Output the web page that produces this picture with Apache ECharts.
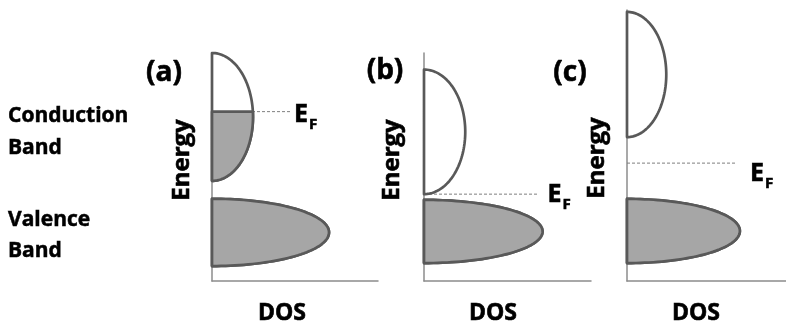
<!DOCTYPE html>
<html>
<head>
<meta charset="utf-8">
<script src="https://cdn.jsdelivr.net/npm/echarts@6/dist/echarts.min.js"></script>
<style>
html,body{margin:0;padding:0;background:#fff;}
#chart{width:786px;height:328px;}
</style>
</head>
<body>
<div id="chart"></div>
<script>
// ---- data (energy in arbitrary units, DOS in arbitrary units) ----
const panelTags = ['(a)', '(b)', '(c)'];
const axisEnergyMax = [84, 84, 100];
const cbBottom = [36.9, 32.0, 53.1];
const cbTop = [84.0, 77.9, 99.3];
const cbPeak = [24.7, 24.7, 24.7];
const vbBottom = [5.5, 6.6, 6.6];
const vbTop = [30.3, 29.9, 30.3];
const vbPeak = [70.5, 71, 71];
const fermi = [62.4, 32.0, 43.5];
const fermiLineEnd = [47, 68, 68];
const xName = 'DOS';
const yName = 'Energy';
const sideLabels = ['Conduction\nBand', 'Valence\nBand'];

// ---- layout (positions / styles) ----
const grids = [
  {left: 212, top: 53, width: 166, height: 228},
  {left: 424, top: 53, width: 167, height: 228},
  {left: 627, top: 10, width: 166, height: 271}
];
const tagPos = [[164, 73], [385, 71], [570, 73]];
const energyPos = [[182, 160], [392, 160], [597, 158]];
const dosPos = [[282, 313], [493, 313], [696, 313]];
const efOffset = [[-1, 3], [5, 1], [10, 11]];
const FONT = '"Open Sans", "Liberation Sans", sans-serif';
const OUTLINE = '#595959';
const FILL = '#a6a6a6';
const AXIS = '#8c8c8c';
const BOLDER = {textBorderColor: '#000', textBorderWidth: 0.6};

function bandRender(params, api) {
  const lo = api.value(0), hi = api.value(1), peak = api.value(2), fillTo = api.value(3);
  const c = (lo + hi) / 2, h = (hi - lo) / 2;
  const N = 80;
  const outline = [];
  for (let i = 0; i <= N; i++) {
    const th = -Math.PI / 2 + Math.PI * i / N;
    outline.push(api.coord([peak * Math.cos(th), c + h * Math.sin(th)]));
  }
  const children = [{
    type: 'polygon',
    shape: {points: outline},
    style: {fill: '#ffffff', stroke: OUTLINE, lineWidth: 2.7, lineJoin: 'round'}
  }];
  if (fillTo > lo) {
    const top = Math.min(fillTo, hi);
    const thEnd = Math.asin(Math.max(-1, Math.min(1, (top - c) / h)));
    const pts = [];
    for (let i = 0; i <= N; i++) {
      const th = -Math.PI / 2 + (thEnd + Math.PI / 2) * i / N;
      pts.push(api.coord([peak * Math.cos(th), c + h * Math.sin(th)]));
    }
    pts.push(api.coord([0, top]));
    children.push({
      type: 'polygon',
      shape: {points: pts},
      style: {fill: FILL, stroke: OUTLINE, lineWidth: 2.7, lineJoin: 'round'}
    });
  }
  return {type: 'group', children: children};
}

const option = {
  animation: false,
  backgroundColor: '#ffffff',
  grid: grids.map(g => Object.assign({containLabel: false}, g)),
  xAxis: grids.map((g, i) => ({
    type: 'value', gridIndex: i, min: 0, max: 100,
    axisLine: {show: true, lineStyle: {color: AXIS, width: 1.5}},
    axisTick: {show: false}, axisLabel: {show: false}, splitLine: {show: false}
  })),
  yAxis: grids.map((g, i) => ({
    type: 'value', gridIndex: i, min: 0, max: axisEnergyMax[i],
    axisLine: {show: true, onZero: false, lineStyle: {color: AXIS, width: 1.5}},
    axisTick: {show: false}, axisLabel: {show: false}, splitLine: {show: false}
  })),
  series: [],
  graphic: []
};

for (let i = 0; i < 3; i++) {
  option.series.push({
    type: 'line', xAxisIndex: i, yAxisIndex: i, z: 1, silent: true,
    symbol: 'none',
    lineStyle: {color: '#7f7f7f', width: 1, type: [3, 2]},
    endLabel: {
      show: true, distance: 5, offset: efOffset[i],
      formatter: '{e|E}{f|F}',
      rich: {
        e: Object.assign({fontFamily: FONT, fontWeight: 'bold', fontSize: 25, color: '#000', lineHeight: 25}, BOLDER),
        f: Object.assign({fontFamily: FONT, fontWeight: 'bold', fontSize: 15, color: '#000', lineHeight: 15, padding: [20, 0, 0, 1]}, BOLDER)
      }
    },
    data: [[0, fermi[i]], [fermiLineEnd[i], fermi[i]]]
  });
  option.series.push({
    type: 'custom', xAxisIndex: i, yAxisIndex: i, z: 3, silent: true,
    renderItem: bandRender,
    data: [
      [cbBottom[i], cbTop[i], cbPeak[i], fermi[i]],
      [vbBottom[i], vbTop[i], vbPeak[i], fermi[i]]
    ]
  });
  option.graphic.push({
    type: 'text', x: tagPos[i][0], y: tagPos[i][1],
    style: Object.assign({text: panelTags[i], fontFamily: FONT, fontWeight: 'bold', fontSize: 28, fill: '#000', align: 'center', verticalAlign: 'middle'}, {stroke: '#000', lineWidth: 0.6})
  });
  option.graphic.push({
    type: 'text', x: energyPos[i][0], y: energyPos[i][1], rotation: Math.PI / 2,
    style: {text: yName, fontFamily: FONT, fontWeight: 'bold', fontSize: 24, fill: '#000', stroke: '#000', lineWidth: 0.6, align: 'center', verticalAlign: 'middle'}
  });
  option.graphic.push({
    type: 'text', x: dosPos[i][0], y: dosPos[i][1],
    style: {text: xName, fontFamily: FONT, fontWeight: 'bold', fontSize: 23, fill: '#000', stroke: '#000', lineWidth: 0.6, align: 'center', verticalAlign: 'middle'}
  });
}
option.graphic.push({
  type: 'text', x: 8, y: 100,
  style: {text: sideLabels[0], fontFamily: FONT, fontWeight: 'bold', fontSize: 21, lineHeight: 32, fill: '#000', stroke: '#000', lineWidth: 0.5, align: 'left', verticalAlign: 'top'}
});
option.graphic.push({
  type: 'text', x: 8, y: 205,
  style: {text: sideLabels[1], fontFamily: FONT, fontWeight: 'bold', fontSize: 21, lineHeight: 31, fill: '#000', stroke: '#000', lineWidth: 0.5, align: 'left', verticalAlign: 'top'}
});

const chart = echarts.init(document.getElementById('chart'), null, {renderer: 'canvas'});
chart.setOption(option);
</script>
</body>
</html>
